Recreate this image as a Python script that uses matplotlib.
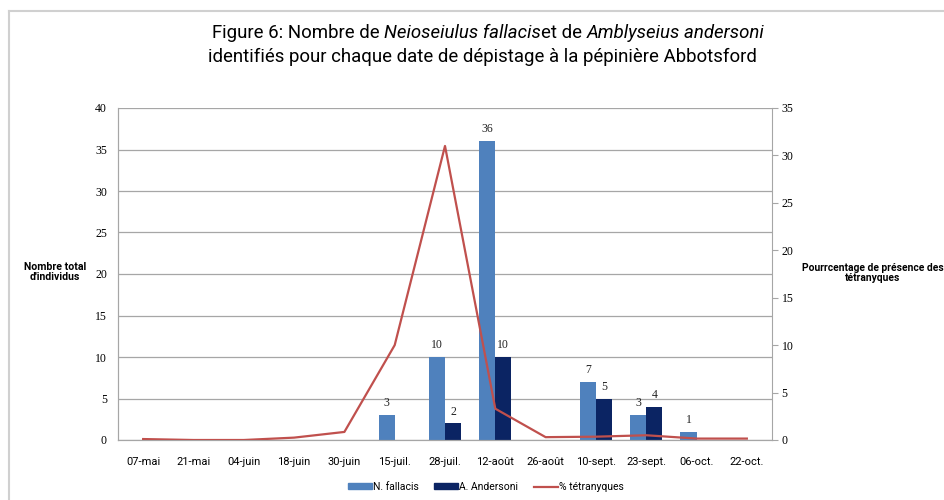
import matplotlib
matplotlib.use("Agg")
import matplotlib.pyplot as plt
import numpy as np
from matplotlib.lines import Line2D

dates = ["07-mai", "21-mai", "04-juin", "18-juin", "30-juin", "15-juil.", "28-juil.",
         "12-août", "26-août", "10-sept.", "23-sept.", "06-oct.", "22-oct."]
n_fallacis = [0, 0, 0, 0, 0, 3, 10, 36, 0, 7, 3, 1, 0]
a_andersoni = [0, 0, 0, 0, 0, 0, 2, 10, 0, 5, 4, 0, 0]
pct_tetranyques = [0.1, 0.0, 0.0, 0.25, 0.85, 10, 31, 3.3, 0.3, 0.35, 0.5, 0.15, 0.15]

left_ticks = list(range(0, 45, 5))
right_ticks = list(range(0, 40, 5))

C_FALL = "#4F81BD"
C_AND = "#0B2463"
C_LINE = "#C0504D"
GRID = "#A6A6A6"
FONT = ["Roboto", "DejaVu Sans"]
NUM_FONT = ["Liberation Serif", "DejaVu Serif"]

plt.rcParams["font.family"] = FONT

fig = plt.figure(figsize=(9.44, 5.0), dpi=100)
ax = fig.add_axes([118 / 944, 60 / 500, (772 - 118) / 944, (440 - 108) / 500])
ax2 = ax.twinx()

x = np.arange(len(dates))
w = 0.32
b1 = ax.bar(x - w / 2, n_fallacis, w, color=C_FALL, zorder=2)
b2 = ax.bar(x + w / 2, a_andersoni, w, color=C_AND, zorder=2)
for bars, vals in ((b1, n_fallacis), (b2, a_andersoni)):
    for r, v in zip(bars, vals):
        if v:
            ax.text(r.get_x() + r.get_width() / 2, v + 0.7, str(v), ha="center",
                    va="bottom", fontsize=8.5, color="#222222", family=NUM_FONT)

ax.set_xlim(-0.5, len(dates) - 0.5)
ax.set_ylim(0, 40)
ax.set_yticks(left_ticks)
ax.yaxis.grid(True, color=GRID, lw=0.9, zorder=0)
ax.set_axisbelow(True)
ax.set_xticks(x)
ax.set_xticklabels(dates, fontsize=8)
ax.tick_params(axis="x", length=0, pad=12)
ax.tick_params(axis="y", length=0, labelsize=8.5, pad=8)
for lab in ax.get_yticklabels():
    lab.set_family(NUM_FONT)

ax2.plot(x, pct_tetranyques, color=C_LINE, lw=1.6, zorder=3)
ax2.set_ylim(0, 35)
ax2.set_yticks(right_ticks)
ax2.tick_params(axis="y", length=4, color=GRID, labelsize=8.5, pad=3)
for lab in ax2.get_yticklabels():
    lab.set_family(NUM_FONT)

# draw line above bars
ax.set_zorder(1)
ax2.set_zorder(2)
ax.patch.set_visible(True)
ax2.patch.set_visible(False)

for a in (ax, ax2):
    a.spines["top"].set_visible(False)
    for s in ("left", "right", "bottom"):
        a.spines[s].set_color(GRID)
ax.spines["right"].set_visible(False)

fig.text(55 / 944, 1 - 272 / 500, "Nombre total\nd'individus", ha="center",
         va="center", fontsize=7.6, fontweight="bold", linespacing=1.1)
fig.text(873 / 944, 1 - 273 / 500, "Pourrcentage de présence des\ntétranyques",
         ha="center", va="center", fontsize=7.4, fontweight="bold", linespacing=1.1)

# title, first line assembled from pieces with italics
fig.canvas.draw()
renderer = fig.canvas.get_renderer()
pieces = [("Figure 6: Nombre de ", "normal"), ("Neioseiulus fallacis", "italic"),
          ("et de ", "normal"), ("Amblyseius andersoni", "italic")]
texts = []
for s, style in pieces:
    t = fig.text(0, 1 - 33 / 500, s, fontsize=13.4, style=style, ha="left", va="center")
    texts.append(t)
widths = [t.get_window_extent(renderer).width for t in texts]
start = 488 - sum(widths) / 2
for t, wd in zip(texts, widths):
    t.set_x(start / 944)
    start += wd
fig.text(482 / 944, 1 - 57 / 500, "identifiés pour chaque date de dépistage à la pépinière Abbotsford",
         fontsize=13.4, ha="center", va="center")

handles = [plt.Rectangle((0, 0), 1, 1, color=C_FALL),
           plt.Rectangle((0, 0), 1, 1, color=C_AND),
           Line2D([], [], color=C_LINE, lw=1.6)]
fig.legend(handles, ["N. fallacis", "A. Andersoni", "% tétranyques"], loc="center",
           bbox_to_anchor=(486 / 944, 1 - 487 / 500), ncol=3, frameon=False, fontsize=7.5,
           handlelength=2.3, handleheight=0.5, handletextpad=0.1, columnspacing=1.5)

# light frame around the chart
fig.add_artist(Line2D([9 / 944, 9 / 944], [0, 1 - 11 / 500], color="#D0D0D0", lw=1.5))
fig.add_artist(Line2D([9 / 944, 1], [1 - 11 / 500, 1 - 11 / 500], color="#D0D0D0", lw=1.5))

fig.savefig("out.png", dpi=100)
